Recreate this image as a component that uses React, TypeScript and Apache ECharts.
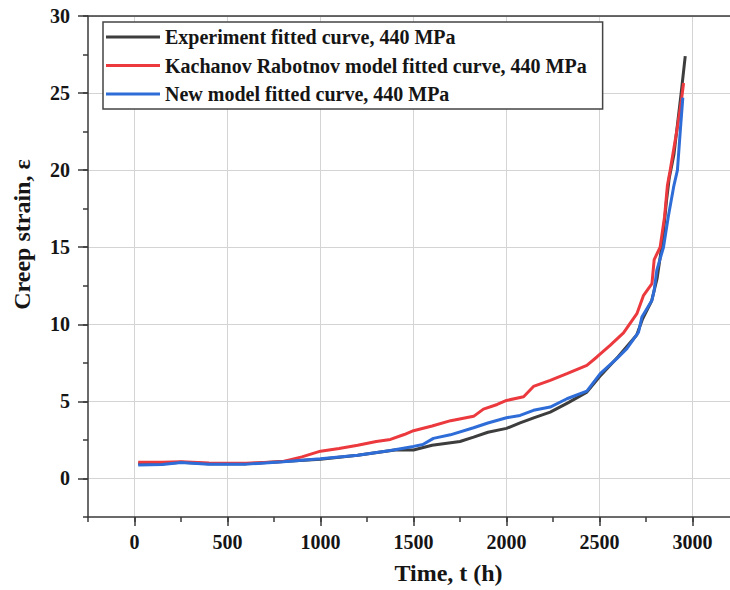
import React, { useEffect, useRef } from "react";
import * as echarts from "echarts";

const expT = [20, 150, 250, 400, 600, 800, 1000, 1200, 1400, 1500, 1600, 1750, 1823, 1900, 2000, 2073, 2150, 2235, 2330, 2432, 2500, 2600, 2700, 2730, 2780, 2810, 2840, 2860, 2875, 2900, 2939, 2961];
const expE = [0.95, 0.95, 1.05, 0.95, 0.95, 1.1, 1.25, 1.5, 1.85, 1.85, 2.15, 2.4, 2.68, 3.0, 3.25, 3.6, 3.95, 4.3, 4.9, 5.6, 6.6, 7.9, 9.3, 10.3, 11.5, 13.0, 15.5, 18.0, 19.5, 21.0, 25.0, 27.4];

const krT = [20, 150, 250, 400, 600, 800, 900, 1000, 1100, 1200, 1300, 1376, 1450, 1500, 1600, 1700, 1823, 1876, 1950, 2000, 2092, 2145, 2235, 2325, 2432, 2486, 2557, 2629, 2701, 2737, 2782, 2794, 2826, 2850, 2865, 2880, 2915, 2940, 2952];
const krE = [1.05, 1.05, 1.08, 1.0, 0.98, 1.1, 1.4, 1.77, 1.95, 2.15, 2.4, 2.53, 2.85, 3.1, 3.4, 3.75, 4.03, 4.5, 4.8, 5.06, 5.3, 5.97, 6.36, 6.8, 7.34, 7.88, 8.64, 9.44, 10.69, 11.88, 12.64, 14.2, 15.0, 17.0, 19.0, 20.0, 22.5, 24.5, 25.65];

const newT = [20, 150, 250, 400, 600, 800, 1000, 1200, 1376, 1500, 1550, 1607, 1698, 1823, 1900, 2000, 2073, 2145, 2235, 2325, 2432, 2504, 2593, 2647, 2710, 2728, 2782, 2794, 2808, 2844, 2870, 2900, 2919, 2934, 2948];
const newE = [0.88, 0.9, 1.03, 0.92, 0.93, 1.08, 1.28, 1.5, 1.82, 2.08, 2.2, 2.6, 2.83, 3.29, 3.6, 3.94, 4.09, 4.42, 4.63, 5.17, 5.67, 6.8, 7.77, 8.42, 9.5, 10.47, 11.56, 12.2, 13.5, 15.0, 17.0, 19.0, 20.0, 22.5, 24.7];

const xTicks = [0, 500, 1000, 1500, 2000, 2500, 3000];
const yTicks = [0, 5, 10, 15, 20, 25, 30];

const seriesNames = [
  "Experiment fitted curve, 440 MPa",
  "Kachanov Rabotnov model fitted curve, 440 MPa",
  "New model fitted curve, 440 MPa",
];
const seriesColors = ["#3d3d3d", "#eb393e", "#2e6cd7"];

const xMin = -250;
const xMax = 3250;
const xMinorStep = 250;
const yMin = -2.5;
const yMax = 30;
const yMinorStep = 2.5;

const FONT = "'Liberation Serif', 'Times New Roman', serif";
const AXIS_COLOR = "#3a3a3a";
const TEXT_COLOR = "#151515";
const GRID_COLOR = "#d4d4d4";
// minor-step ticks start at min (-250 / -2.5): every second one is a major value
const GRID_CYCLE = ["rgba(255,255,255,0)", GRID_COLOR];

function zip(t: number[], e: number[]) {
  return t.map((v, i) => [v, e[i]]);
}

export default function App() {
  const ref = useRef<HTMLDivElement>(null);
  useEffect(() => {
    if (!ref.current) return;
    const chart = echarts.init(ref.current, null, { renderer: "svg" });
    const datasets = [zip(expT, expE), zip(krT, krE), zip(newT, newE)];
    const lineStyle = { color: AXIS_COLOR, width: 1.5 };

    chart.setOption({
      animation: false,
      backgroundColor: "#ffffff",
      grid: { left: 88, top: 16, width: 651, height: 501, containLabel: false, outerBoundsMode: "none" },
      legend: {
        orient: "vertical",
        left: 103,
        top: 22,
        icon: "rect",
        itemWidth: 54,
        itemHeight: 3,
        itemGap: 8.5,
        padding: [5, 16, 5, 3],
        borderColor: "#444",
        borderWidth: 1.5,
        backgroundColor: "#ffffff",
        textStyle: { fontFamily: FONT, fontWeight: "bold", fontSize: 20, color: TEXT_COLOR },
        data: seriesNames,
        z: 10,
      },
      xAxis: [
        {
          type: "value",
          position: "bottom",
          min: xMin,
          max: xMax,
          name: "Time, t (h)",
          nameLocation: "middle",
          nameGap: 44,
          nameTextStyle: {
            fontFamily: FONT,
            fontWeight: "bold",
            fontSize: 24,
            color: TEXT_COLOR,
            padding: [0, 0, 0, 70],
          },
          axisLine: { show: true, onZero: false, lineStyle },
          axisTick: { show: true, inside: false, length: 9, lineStyle, customValues: xTicks },
          minorTick: { show: false },
          axisLabel: {
            margin: 15,
            fontFamily: FONT,
            fontWeight: "bold",
            fontSize: 20,
            color: TEXT_COLOR,
            customValues: xTicks,
            formatter: (v: number) => String(v),
          },
          splitLine: { show: false },
        },
        {
          type: "value",
          position: "bottom",
          min: xMin,
          max: xMax,
          interval: xMinorStep,
          axisLine: { show: false, onZero: false },
          axisTick: { show: true, inside: false, length: 5, lineStyle },
          axisLabel: { show: true, formatter: () => "" },
          splitLine: { show: true, lineStyle: { color: GRID_CYCLE, width: 1 } },
        },
        {
          type: "value",
          position: "top",
          min: xMin,
          max: xMax,
          axisLine: { show: true, onZero: false, lineStyle },
          axisTick: { show: false },
          axisLabel: { show: false },
          splitLine: { show: false },
        },
      ],
      yAxis: [
        {
          type: "value",
          position: "left",
          min: yMin,
          max: yMax,
          name: "Creep strain, ε",
          nameLocation: "middle",
          nameGap: 54,
          nameTextStyle: {
            fontFamily: FONT,
            fontWeight: "bold",
            fontSize: 24,
            color: TEXT_COLOR,
            padding: [0, 0, 0, 64],
          },
          axisLine: { show: true, onZero: false, lineStyle },
          axisTick: { show: true, inside: false, length: 10, lineStyle, customValues: yTicks },
          minorTick: { show: false },
          axisLabel: {
            margin: 18,
            fontFamily: FONT,
            fontWeight: "bold",
            fontSize: 20,
            color: TEXT_COLOR,
            customValues: yTicks,
            formatter: (v: number) => String(v),
          },
          splitLine: { show: false },
        },
        {
          type: "value",
          position: "left",
          min: yMin,
          max: yMax,
          interval: yMinorStep,
          axisLine: { show: false, onZero: false },
          axisTick: { show: true, inside: false, length: 5, lineStyle },
          axisLabel: { show: true, formatter: () => "" },
          splitLine: { show: true, lineStyle: { color: GRID_CYCLE, width: 1 } },
        },
      ],
      series: datasets.map((d, i) => ({
        name: seriesNames[i],
        type: "line",
        xAxisIndex: 0,
        yAxisIndex: 0,
        data: d,
        showSymbol: false,
        symbol: "none",
        smooth: false,
        color: seriesColors[i],
        lineStyle: { width: 3, color: seriesColors[i] },
        z: 2 + i,
      })),
    });
    return () => chart.dispose();
  }, []);
  return (
    <div
      ref={ref}
      style={{ position: "fixed", left: 0, top: 0, width: 730, height: 590, background: "#fff" }}
    />
  );
}
